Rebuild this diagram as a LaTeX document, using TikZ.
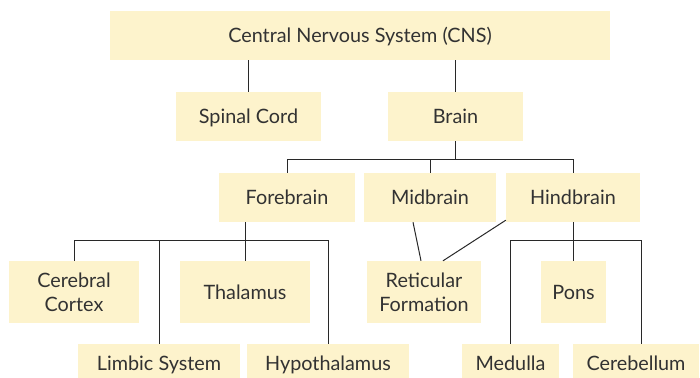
\documentclass[tikz,border=0pt]{standalone}
\usepackage{fontspec}
\setmainfont{Lato}
\definecolor{boxfill}{RGB}{253,243,204}
\definecolor{ink}{RGB}{50,50,50}
\definecolor{wire}{RGB}{40,40,40}
\begin{document}
\begin{tikzpicture}[x=1pt,y=-1pt,
  box/.style={fill=boxfill,draw=none,inner sep=0pt,align=center,text=ink,
    font=\fontsize{19.8}{24}\selectfont},
  oneline/.style={box,text height=16pt,text depth=2pt},
  conn/.style={draw=wire,line width=1pt}]
\useasboundingbox (0,0) rectangle (700,377);
\begin{scope}
\clip (0,0) rectangle (700,377);
\node[oneline,minimum width=500,minimum height=49] (cns) at (360,35.5) {Central Nervous System (CNS)};
\node[oneline,minimum width=145,minimum height=49] (spinal) at (248.5,116.5) {Spinal Cord};
\node[oneline,minimum width=135,minimum height=49] (brain) at (455.5,116.5) {Brain};
\node[oneline,minimum width=136,minimum height=49] (fore) at (287,197.5) {Forebrain};
\node[oneline,minimum width=132,minimum height=49] (mid) at (430,197.5) {Midbrain};
\node[oneline,minimum width=134,minimum height=49] (hind) at (573,197.5) {Hindbrain};
\node[box,minimum width=130,minimum height=62] (cortex) at (74,292) {Cerebral\\Cortex};
\node[oneline,minimum width=130,minimum height=62] (thal) at (245,292) {Thalamus};
\node[box,minimum width=114,minimum height=62] (retic) at (424,292) {Reticular\\Formation};
\node[oneline,minimum width=65,minimum height=62] (pons) at (573.5,292) {Pons};
\node[oneline,minimum width=162,minimum height=38] (limbic) at (159,363) {Limbic System};
\node[oneline,minimum width=162,minimum height=38] (hypo) at (328,363) {Hypothalamus};
\node[oneline,minimum width=97,minimum height=38] (medulla) at (510.5,363) {Medulla};
\node[oneline,minimum width=126,minimum height=38] (cereb) at (636,363) {Cerebellum};
\end{scope}
\coordinate (bbus) at (0,159);
\coordinate (lbus) at (0,240);
% CNS
\draw[conn] (cns.south -| spinal.north) -- (spinal.north);
\draw[conn] (cns.south -| brain.north) -- (brain.north);
% Brain
\draw[conn] (brain.south) -- (brain.south |- bbus);
\draw[conn] (fore.north) -- (fore.north |- bbus) -- (hind.north |- bbus) -- (hind.north);
\draw[conn] (mid.north |- bbus) -- (mid.north);
% Forebrain
\draw[conn] (fore.south -| thal.north) -- (thal.north);
\draw[conn] (cortex.north) -- (cortex.north |- lbus) -- (hypo.north |- lbus) -- (hypo.north);
\draw[conn] (limbic.north |- lbus) -- (limbic.north);
% Midbrain / Hindbrain to Reticular
\draw[conn] ([xshift=-17pt]mid.south) -- ([xshift=-3pt]retic.north);
\draw[conn] ([yshift=2pt]hind.south west) -- ([xshift=19pt]retic.north);
% Hindbrain
\draw[conn] (hind.south -| pons.north) -- (pons.north);
\draw[conn] (medulla.north) -- (medulla.north |- lbus) -- ([xshift=5pt]cereb.north |- lbus) -- ([xshift=5pt]cereb.north);
\end{tikzpicture}
\end{document}
